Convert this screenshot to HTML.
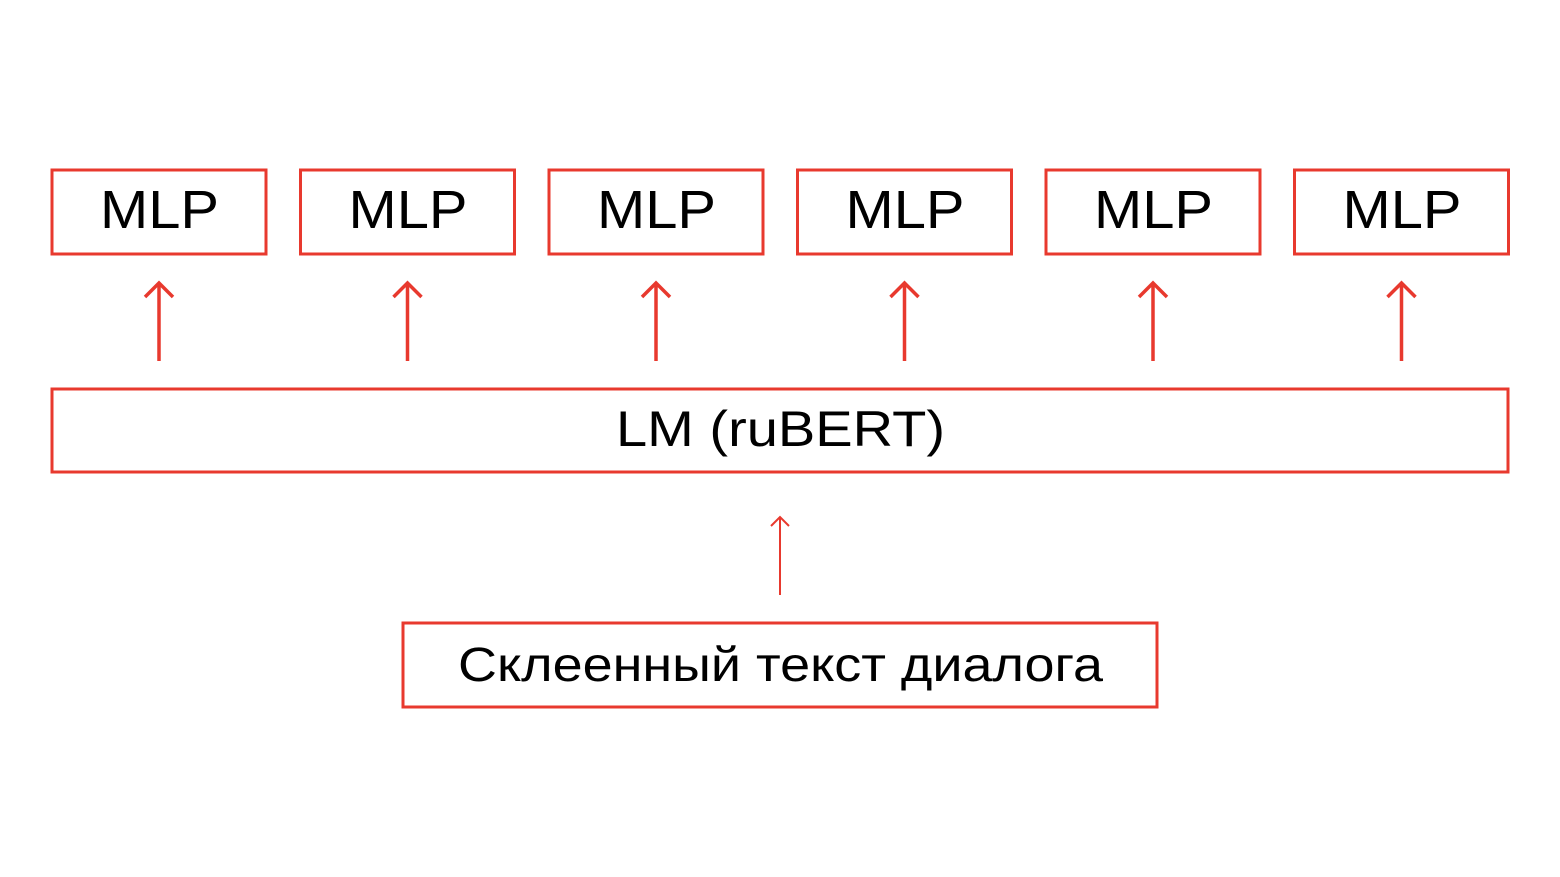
<!DOCTYPE html>
<html><head><meta charset="utf-8"><style>
body{margin:0;background:#fff;}
svg{display:block;}
text{font-family:"Liberation Sans","DejaVu Sans",sans-serif;fill:#000;}
</style></head><body>
<svg width="1560" height="877" viewBox="0 0 1560 877">
<g fill="none" stroke="#e8392e" stroke-width="3">
<rect x="52" y="170" width="214" height="84"/>
<rect x="300.5" y="170" width="214" height="84"/>
<rect x="549" y="170" width="214" height="84"/>
<rect x="797.5" y="170" width="214" height="84"/>
<rect x="1046" y="170" width="214" height="84"/>
<rect x="1294.5" y="170" width="214" height="84"/>
<rect x="52" y="389" width="1456" height="83"/>
<rect x="403" y="623" width="754" height="84"/>
<g stroke-width="3.5">
<path d="M159 361V284M145 297L159 283L173 297"/>
<path d="M407.5 361V284M393.5 297L407.5 283L421.5 297"/>
<path d="M656 361V284M642 297L656 283L670 297"/>
<path d="M904.5 361V284M890.5 297L904.5 283L918.5 297"/>
<path d="M1153 361V284M1139 297L1153 283L1167 297"/>
<path d="M1401.5 361V284M1387.5 297L1401.5 283L1415.5 297"/>
</g>
<path stroke-width="2" d="M780 595V517M771 526L780 517L789 526"/>
</g>
<g font-size="54">
<text x="100" y="228" textLength="119" lengthAdjust="spacingAndGlyphs">MLP</text>
<text x="348.5" y="228" textLength="119" lengthAdjust="spacingAndGlyphs">MLP</text>
<text x="597" y="228" textLength="119" lengthAdjust="spacingAndGlyphs">MLP</text>
<text x="845.5" y="228" textLength="119" lengthAdjust="spacingAndGlyphs">MLP</text>
<text x="1094" y="228" textLength="119" lengthAdjust="spacingAndGlyphs">MLP</text>
<text x="1342.5" y="228" textLength="119" lengthAdjust="spacingAndGlyphs">MLP</text>
<text x="616" y="446" font-size="50" textLength="329" lengthAdjust="spacingAndGlyphs">LM (ruBERT)</text>
<text x="458" y="681" font-size="48" textLength="645" lengthAdjust="spacingAndGlyphs">Склеенный текст диалога</text>
</g>
</svg>
</body></html>
